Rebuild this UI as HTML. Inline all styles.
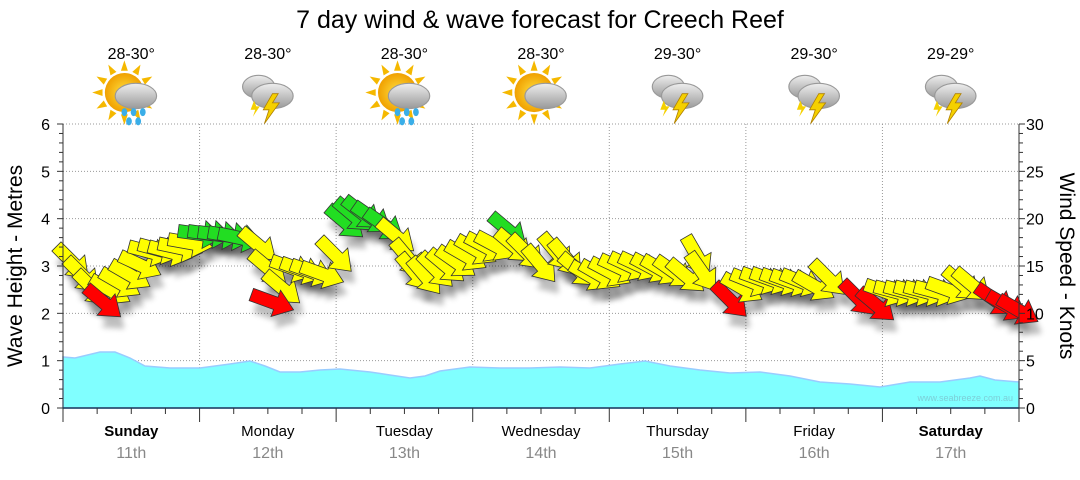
<!DOCTYPE html>
<html><head><meta charset="utf-8"><style>
body{margin:0;background:#fff;width:1080px;height:475px;overflow:hidden;font-family:"Liberation Sans",sans-serif}
</style></head><body>
<svg id="s" width="1080" height="475" xmlns="http://www.w3.org/2000/svg" font-family="Liberation Sans, sans-serif">
<defs>
<filter id="sh" x="-50%" y="-50%" width="200%" height="200%"><feGaussianBlur stdDeviation="3"/></filter>
<radialGradient id="sun"><stop offset="0" stop-color="#ffe040"/><stop offset="1" stop-color="#f0a000"/></radialGradient>
<linearGradient id="cl" x1="0" y1="0" x2="0" y2="1"><stop offset="0" stop-color="#eee"/><stop offset="1" stop-color="#999"/></linearGradient>
</defs>
<text x="540" y="28" font-size="25" text-anchor="middle" fill="#000">7 day wind &amp; wave forecast for Creech Reef</text>
<g id="grid" stroke="#999" stroke-dasharray="1,2" stroke-width="1"></g>
<path id="wave" fill="#80ffff" stroke="#99ccff" stroke-width="1.5"/>
<g id="arr"></g>
<g id="axes"></g>
<text x="1013" y="401" font-size="9" fill="#7ccfd8" text-anchor="end">www.seabreeze.com.au</text>
<text transform="translate(22,266) rotate(-90)" font-size="21" text-anchor="middle">Wave Height - Metres</text>
<text transform="translate(1060,266) rotate(90)" font-size="21" text-anchor="middle">Wind Speed - Knots</text>
<g id="wx"></g>
</svg>
<script>
const NS="http://www.w3.org/2000/svg";
function el(p,t,a,txt){const e=document.createElementNS(NS,t);for(const k in a)e.setAttribute(k,a[k]);if(txt!==undefined)e.textContent=txt;document.getElementById(p).appendChild(e);return e;}
const L=63,R=1019,T=124,B=408,DW=(R-L)/7;
for(let i=1;i<=6;i++){const y=B-i*(B-T)/6;el('grid','line',{x1:L,x2:R,y1:y,y2:y});}
for(let d=1;d<7;d++){const x=L+d*DW;el('grid','line',{x1:x,x2:x,y1:T,y2:B});}
el('axes','line',{x1:L,x2:L,y1:T,y2:B,stroke:'#333','stroke-width':1});
el('axes','line',{x1:L,x2:R,y1:B,y2:B,stroke:'#1a3a5a','stroke-width':1.5});
el('axes','line',{x1:R,x2:R,y1:T,y2:B,stroke:'#333','stroke-width':1});
for(let i=0;i<=30;i++){const y=B-i*(B-T)/30;el('axes','line',{x1:L-(i%5==0?6:4),x2:L,y1:y,y2:y,stroke:'#333'});el('axes','line',{x1:R,x2:R+(i%5==0?6:4),y1:y,y2:y,stroke:'#333'});}
for(let i=0;i<=6;i++){const y=B-i*(B-T)/6;el('axes','text',{x:50,y:y+6,'font-size':16,'text-anchor':'end',fill:'#000'},i);}
for(let i=0;i<=30;i+=5){const y=B-i*(B-T)/30;el('axes','text',{x:1026,y:y+6,'font-size':16,fill:'#000'},i);}
for(let k=0;k<=28;k++){const x=L+k*DW/4;el('axes','line',{x1:x,x2:x,y1:B,y2:B+(k%4==0?14:6),stroke:'#333'});}
const days=[["Sunday","11th",1],["Monday","12th"],["Tuesday","13th"],["Wednesday","14th"],["Thursday","15th"],["Friday","16th"],["Saturday","17th",1]];
days.forEach((d,i)=>{const x=L+(i+.5)*DW;el('axes','text',{x:x,y:436,'font-size':15,'text-anchor':'middle','font-weight':d[2]?'bold':'normal'},d[0]);el('axes','text',{x:x,y:458,'font-size':16,'text-anchor':'middle',fill:'#888'},d[1]);});
const wv=[[63,357],[75,358],[100,352],[115,352],[130,358],[145,366],[170,368],[200,368],[230,364],[250,361],[265,366],[280,372],[300,372],[320,370],[340,369],[370,372],[390,375],[410,378],[425,376],[440,371],[470,367],[500,368],[530,368],[560,367],[590,368],[620,364],[645,361],[670,366],[700,370],[730,373],[760,372],[790,376],[820,382],[850,384],[880,387],[910,382],[940,382],[970,378],[980,376],[995,380],[1019,382]];
document.getElementById('wave').setAttribute('d','M63,408 L'+wv.map(p=>p.join(',')).join(' L')+' L1019,408 Z');
const Y='#ffff00',G='#22dd22',Rd='#ff0000';
const A=[[72,262,45,Y],[82,275,45,Y],[92,288,45,Y],[110,290,30,Y],[120,283,30,Y],[130,275,30,Y],[140,265,25,Y],[103,302,40,Rd],
[150,252,15,Y],[160,250,15,Y],[170,252,15,Y],[180,248,12,Y],[190,243,10,Y],
[200,234,8,G],[210,234,8,G],[220,235,8,G],[230,236,10,G],[240,238,12,G],[258,245,40,Y],[268,268,40,Y],[282,288,40,Y],[272,302,20,Rd],
[292,268,20,Y],[302,270,20,Y],[312,272,20,Y],[322,274,20,Y],[335,255,45,Y],
[345,222,40,G],[353,215,40,G],[362,213,38,G],[372,218,35,G],[384,225,35,G],[396,236,40,Y],
[408,258,50,Y],[414,272,50,Y],[425,276,50,Y],[436,270,45,Y],[446,266,40,Y],[456,262,35,Y],[466,256,30,Y],[476,250,30,Y],[486,247,28,Y],[496,246,28,Y],[508,230,40,G],
[514,246,40,Y],[526,252,45,Y],[540,264,50,Y],[556,252,50,Y],[566,258,50,Y],[578,270,40,Y],[590,276,30,Y],[600,275,30,Y],[610,272,28,Y],[620,268,25,Y],[630,266,25,Y],[640,266,25,Y],[652,268,28,Y],[662,270,30,Y],[674,272,35,Y],[686,276,40,Y],
[697,256,60,Y],[702,272,55,Y],[730,300,45,Rd],[742,288,30,Y],[752,282,22,Y],[762,280,20,Y],[772,280,20,Y],[782,281,20,Y],[792,282,20,Y],[802,282,22,Y],[814,286,30,Y],[828,278,45,Y],
[858,298,45,Rd],[876,305,40,Rd],[886,292,20,Y],[896,292,15,Y],[906,292,15,Y],[916,292,15,Y],[926,292,15,Y],[936,292,15,Y],[948,290,20,Y],[962,284,40,Y],[972,285,40,Y],
[995,300,35,Rd],[1007,306,30,Rd],[1018,310,30,Rd]];
function arrowPath(){return "M-22,-6.5 L4,-6.5 L4,-14 L23,0 L4,14 L4,6.5 L-22,6.5 Z";}
A.forEach(a=>{el('arr','path',{d:arrowPath(),transform:`translate(${a[0]+4},${a[1]+12}) rotate(${a[2]})`,fill:'#000',opacity:0.25,filter:'url(#sh)'});});
A.forEach(a=>{el('arr','path',{d:arrowPath(),transform:`translate(${a[0]},${a[1]}) rotate(${a[2]})`,fill:a[3],stroke:'#333','stroke-width':0.8,'stroke-linejoin':'miter'});});
const temps=["28-30°","28-30°","28-30°","28-30°","29-30°","29-30°","29-29°"];
const kinds=["sunrain","storm","sunrain","sun","storm","storm","storm"];
temps.forEach((t,i)=>{const cx=L+(i+.5)*DW;el('wx','text',{x:cx,y:59,'font-size':16,'text-anchor':'middle'},t);
const g=el('wx','g',{transform:`translate(${cx},96) scale(1.15)`});const k=kinds[i];
function add(tag,a){const e=document.createElementNS(NS,tag);for(const q in a)e.setAttribute(q,a[q]);g.appendChild(e);}
if(k!="storm"){for(let r=0;r<12;r++){add('path',{d:"M-3,-19 L0,-28 L3,-19 Z",fill:'#f5b800',transform:`translate(-6,-3) rotate(${r*30})`});}add('circle',{cx:-6,cy:-3,r:17,fill:'url(#sun)'});}
if(k=="storm"){add('ellipse',{cx:-8,cy:-8,rx:14,ry:10,fill:'url(#cl)',stroke:'#999'});}
add('ellipse',{cx:4,cy:0,rx:18,ry:11,fill:'url(#cl)',stroke:'#999'});
if(k=="storm"){add('path',{d:"M4,-2 L-4,12 L1,12 L-3,24 L10,6 L4,6 L9,-2 Z",fill:'#f5d000',stroke:'#b08000','stroke-width':0.7});add('path',{d:"M-12,4 L-15,12 L-11,12 L-13,18 L-7,9 L-10,9 Z",fill:'#f5d000'});}
if(k=="sunrain"){[[-6,14],[2,14],[10,14],[-2,22],[6,22]].forEach(p=>add('ellipse',{cx:p[0],cy:p[1],rx:2.5,ry:3.5,fill:'#3aaee8'}));}
});
</script>
</body></html>
